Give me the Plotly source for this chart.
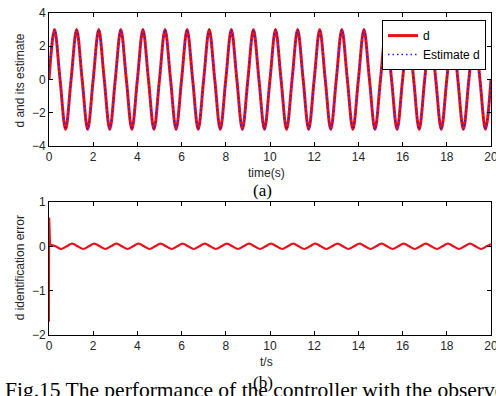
import plotly.graph_objects as go
from plotly.subplots import make_subplots

# ---------------- data ----------------
# sample times for d / estimate (every quarter second, 0..20 s)
t_d = [i * 0.25 for i in range(81)]
d_vals = [
    0, 3, 0, -3, 0, 3, 0, -3, 0, 3, 0, -3, 0, 3, 0, -3,
    0, 3, 0, -3, 0, 3, 0, -3, 0, 3, 0, -3, 0, 3, 0, -3,
    0, 3, 0, -3, 0, 3, 0, -3, 0, 3, 0, -3, 0, 3, 0, -3,
    0, 3, 0, -3, 0, 3, 0, -3, 0, 3, 0, -3, 0, 3, 0, -3,
    0, 3, 0, -3, 0, 3, 0, -3, 0, 3, 0, -3, 0, 3, 0, -3,
    0,
]
est_vals = [
    0.5, 3, 0, -3, 0, 3, 0, -3, 0, 3, 0, -3, 0, 3, 0, -3,
    0, 3, 0, -3, 0, 3, 0, -3, 0, 3, 0, -3, 0, 3, 0, -3,
    0, 3, 0, -3, 0, 3, 0, -3, 0, 3, 0, -3, 0, 3, 0, -3,
    0, 3, 0, -3, 0, 3, 0, -3, 0, 3, 0, -3, 0, 3, 0, -3,
    0, 3, 0, -3, 0, 3, 0, -3, 0, 3, 0, -3, 0, 3, 0, -3,
    0,
]

# identification error: initial spike
t_spike = [0.0, 0.01, 0.05]
err_spike = [-1.7, 0.65, 0.04]
# identification error: steady oscillation
t_err = [0.05 + i * 0.25 for i in range(80)] + [20.0]
err_vals = [
    0.04, 0, -0.06, 0, 0.06, 0, -0.06, 0, 0.06, 0, -0.06, 0, 0.06, 0, -0.06, 0,
    0.06, 0, -0.06, 0, 0.06, 0, -0.06, 0, 0.06, 0, -0.06, 0, 0.06, 0, -0.06, 0,
    0.06, 0, -0.06, 0, 0.06, 0, -0.06, 0, 0.06, 0, -0.06, 0, 0.06, 0, -0.06, 0,
    0.06, 0, -0.06, 0, 0.06, 0, -0.06, 0, 0.06, 0, -0.06, 0, 0.06, 0, -0.06, 0,
    0.06, 0, -0.06, 0, 0.06, 0, -0.06, 0, 0.06, 0, -0.06, 0, 0.06, 0, -0.06, 0,
    0.05,
]

x_ticks = [0, 2, 4, 6, 8, 10, 12, 14, 16, 18, 20]
y1_ticks = [-4, -2, 0, 2, 4]
y2_ticks = [-2, -1, 0, 1]

# ---------------- figure ----------------
RED = "rgb(232,18,28)"
BLUE = "rgb(30,30,235)"
TICKFONT = dict(family="Liberation Sans, Arial, sans-serif", size=12, color="#262626")

fig = make_subplots(rows=2, cols=1)

fig.add_trace(go.Scatter(x=t_d, y=d_vals, mode="lines", name="d",
                         line=dict(color=RED, width=3, shape="spline")), row=1, col=1)
fig.add_trace(go.Scatter(x=t_d, y=est_vals, mode="lines", name="Estimate d",
                         line=dict(color=BLUE, width=1.5, dash="1.5px,3px", shape="spline")),
              row=1, col=1)
fig.add_trace(go.Scatter(x=t_spike, y=err_spike, mode="lines", showlegend=False,
                         line=dict(color=RED, width=2)), row=2, col=1)
fig.add_trace(go.Scatter(x=t_err, y=err_vals, mode="lines", showlegend=False,
                         line=dict(color=RED, width=2.2, shape="spline")), row=2, col=1)

axis_common = dict(showline=True, linecolor="black", linewidth=1, mirror="ticks",
                   ticks="inside", ticklen=4, tickcolor="black", showgrid=False,
                   zeroline=False, tickfont=TICKFONT, ticklabeloverflow="allow",
                   automargin=False)

fig.update_xaxes(range=[0, 20], tickvals=x_ticks, **axis_common)
fig.update_yaxes(**axis_common)
fig.update_yaxes(range=[-4, 4], tickvals=y1_ticks, row=1, col=1)
fig.update_yaxes(range=[-2, 1], tickvals=y2_ticks, row=2, col=1)

fig.update_layout(
    width=496, height=396,
    margin=dict(l=49, r=5, t=13, b=61, autoexpand=False),
    paper_bgcolor="white", plot_bgcolor="white",
    xaxis=dict(domain=[0, 1]), yaxis=dict(domain=[0.587, 1.0]),
    xaxis2=dict(domain=[0, 1]), yaxis2=dict(domain=[0.0, 0.413]),
    legend=dict(x=0.9887, y=0.978, xanchor="right", yanchor="top",
                bgcolor="white", bordercolor="black", borderwidth=1,
                font=dict(family="Liberation Sans, Arial, sans-serif", size=12, color="black"),
                tracegroupgap=0),
    showlegend=True,
)

ann_font = dict(family="Liberation Sans, Arial, sans-serif", size=12, color="#262626")
serif = dict(family="Liberation Serif, Times New Roman, serif", color="black")
annotations = [
    dict(text="d and its estimate", x=-0.0656, y=0.79, textangle=-90, font=ann_font),
    dict(text="d identification error", x=-0.0656, y=0.207, textangle=-90, font=ann_font),
    dict(text="time(s)", x=0.491, y=0.503, font=ann_font),
    dict(text="t/s", x=0.493, y=-0.0839, font=ann_font),
    dict(text="(a)", x=0.482, y=0.450, font=dict(size=17, **serif)),
    dict(text="(b)", x=0.484, y=-0.149, font=dict(size=17, **serif)),
    dict(text="Fig.15 The performance of the controller with the observer",
         x=-0.104, y=-0.172, xanchor="left", font=dict(size=21.5, **serif)),
]
for a in annotations:
    a.setdefault("xanchor", "center")
    fig.add_annotation(xref="paper", yref="paper", showarrow=False, yanchor="middle", **a)

fig.write_html(
    "out.html",
    config={"displayModeBar": False},
    post_script="document.body.style.margin='0';document.body.style.padding='0';"
                "document.body.style.overflow='hidden';",
)
